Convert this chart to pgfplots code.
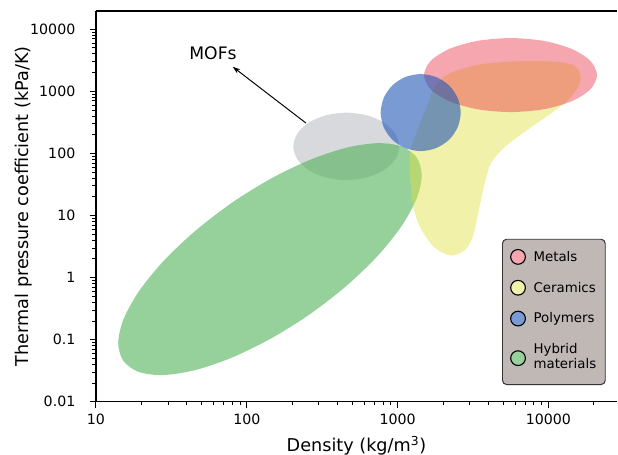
\documentclass[border=0pt]{standalone}
\usepackage{fontspec}
\setmainfont{DejaVu Sans}
\usepackage{pgfplots}
\pgfplotsset{compat=1.18}
\usetikzlibrary{arrows.meta}
\definecolor{cMet}{RGB}{234,43,65}
\definecolor{cCer}{RGB}{224,224,66}
\definecolor{cPol}{RGB}{33,87,182}
\definecolor{cHyb}{RGB}{80,177,88}
\definecolor{cMOF}{RGB}{190,192,197}
\definecolor{lMet}{RGB}{246,166,175}
\definecolor{lCer}{RGB}{241,241,170}
\definecolor{lPol}{RGB}{122,154,211}
\definecolor{lHyb}{RGB}{150,208,155}
\definecolor{legbg}{RGB}{191,184,181}
\definecolor{legedge}{RGB}{50,50,50}
\begin{document}
\begin{tikzpicture}
\begin{axis}[
  name=ax,
  scale only axis, width=375.1pt, height=281.3pt,
  xmode=log, ymode=log,
  xmin=10, xmax=28507, ymin=0.01, ymax=19560,
  axis x line*=bottom, axis y line*=left,
  axis line style={line width=0.8pt, -},
  every outer x axis line/.append style={-},
  every outer y axis line/.append style={-},
  tick align=outside,
  major tick length=4.3pt, minor tick length=2.6pt,
  every tick/.style={black, line width=0.7pt},
  every minor tick/.append style={line width=0.5pt},
  xtick={10,100,1000,10000},
  xticklabels={10,100,1000,10000},
  minor xtick={20,30,40,50,60,70,80,90,200,300,400,500,600,700,800,900,2000,3000,4000,5000,6000,7000,8000,9000,20000},
  ytick={0.01,0.1,1,10,100,1000,10000},
  yticklabels={0.01,0.1,1,10,100,1000,10000},
  minor ytick={0.02,0.03,0.04,0.05,0.06,0.07,0.08,0.09,0.2,0.3,0.4,0.5,0.6,0.7,0.8,0.9,2,3,4,5,6,7,8,9,20,30,40,50,60,70,80,90,200,300,400,500,600,700,800,900,2000,3000,4000,5000,6000,7000,8000,9000},
  tick label style={font=\fontsize{10.2}{12}\selectfont},
  xticklabel style={anchor=north, inner sep=0pt, yshift=-4.0pt},
  yticklabel style={anchor=east, inner sep=0pt, xshift=-10.4pt},
  xlabel={Density (kg/m\textsuperscript{3})},
  ylabel={Thermal pressure coefficient (kPa/K)},
  label style={font=\fontsize{12.7}{15}\selectfont},
  xlabel style={at={(axis description cs:0.5,0)}, anchor=base, yshift=-35.8pt},
  ylabel style={at={(axis description cs:-0.12956,0.5)}, anchor=base},
  legend style={
    at={(axis description cs:0.9783,0.0427)}, anchor=south east,
    fill=legbg, draw=legedge, line width=0.7pt, rounded corners=3pt,
    inner xsep=5.5pt, inner ysep=7.0pt,
    row sep=10.8pt, column sep=4.5pt,
    font=\fontsize{9.6}{11}\selectfont,
    nodes={inner sep=1pt, text depth=},
  },
  legend cell align=left,
  legend image code/.code={\filldraw[#1] (0pt,0pt) circle[radius=5.3pt];},
]
% MOFs (grey)
\addplot[forget plot, draw=none, fill=cMOF, fill opacity=0.6, smooth cycle] coordinates {
(1026,129.2) (965.1,208.4) (809.8,312.5) (622.7,409.7) (456.9,450.6) (335.2,409.7) (257.8,312.5) (216.3,208.4)
(203.4,129.2) (216.3,80.04) (257.8,53.37) (335.2,40.72) (456.9,37.02) (622.7,40.72) (809.8,53.37) (965.1,80.04)};
% Hybrid materials (green)
\addplot[forget plot, draw=none, fill=cHyb, fill opacity=0.6, smooth cycle] coordinates {
(1339,85.65) (1065,128.8) (738.2,145.7) (457.5,123.0) (261.9,78.35) (143.8,38.83) (78.91,15.72) (45.09,5.523)
(27.86,1.810) (19.24,0.5966) (15.23,0.2134) (14.04,0.08883) (15.16,0.04570) (19.07,0.03039) (27.51,0.02686) (44.39,0.03181)
(77.55,0.04995) (141.2,0.1008) (257.4,0.2490) (450.5,0.7086) (728.9,2.162) (1055,6.560) (1333,18.34) (1446,44.05)};
% Ceramics (yellow)
\addplot[forget plot, draw=none, fill=cCer, fill opacity=0.45, smooth cycle] coordinates {
(1743,1122) (2062,1751) (2593,2245) (3519,2702) (5290,2973) (7941,3051) (11938,2940) (15010,2537)
(16325,1751) (15786,1177) (13284,692.8) (10728,460.8) (7551,254.6) (5234,130.6) (4163,69.53) (3741,29.64)
(3466,12.63) (3162,4.642) (2799,2.762) (2260,2.253) (1743,3.087) (1408,6.480) (1271,13.60) (1218,33.20)
(1199,69.53) (1227,121.3) (1408,306.4) (1615,692.8)};
% Metals (pink)
\addplot[forget plot, draw=none, fill=cMet, fill opacity=0.42, smooth cycle] coordinates {
(21004,1817) (18995,3069) (14264,4792) (9293,6451) (5606,7162) (3382,6451) (2204,4792) (1655,3069)
(1497,1817) (1655,1075) (2204,688.7) (3382,511.5) (5606,460.8) (9293,511.5) (14264,688.7) (18995,1075)};
% Polymers (blue)
\addplot[forget plot, draw=none, fill=cPol, fill opacity=0.6, smooth cycle] coordinates {
(2621,452.3) (2502,780.2) (2191,1241) (1798,1691) (1423,1885) (1126,1691) (924.0,1241) (809.3,780.2)
(772.6,452.3) (809.3,261.9) (924.0,164.8) (1126,121.0) (1423,108.5) (1798,121.0) (2191,164.8) (2502,261.9)};
% annotation
\draw[-{Stealth[length=5.5pt,width=3.6pt]}, line width=0.7pt] (axis cs:246.9,306.4) -- (axis cs:80.63,2471);
\node[font=\fontsize{12.4}{14}\selectfont, anchor=base] at (axis cs:59.7,3251) {MOFs};
% legend
\addlegendimage{fill=lMet, draw=black, line width=0.8pt}
\addlegendentry{Metals}
\addlegendimage{fill=lCer, draw=black, line width=0.8pt}
\addlegendentry{Ceramics}
\addlegendimage{fill=lPol, draw=black, line width=0.8pt}
\addlegendentry{Polymers}
\addlegendimage{fill=lHyb, draw=black, line width=0.8pt}
\addlegendentry{\begin{tabular}{@{}l@{}}Hybrid\\materials\end{tabular}}
\end{axis}
\draw[line width=0.8pt] (ax.north west) -- (ax.north east);
\pgfresetboundingbox
\path ([shift={(-69.1pt,-37.7pt)}]ax.south west) rectangle ([shift={(0.7pt,7.9pt)}]ax.north east);
\end{tikzpicture}
\end{document}
